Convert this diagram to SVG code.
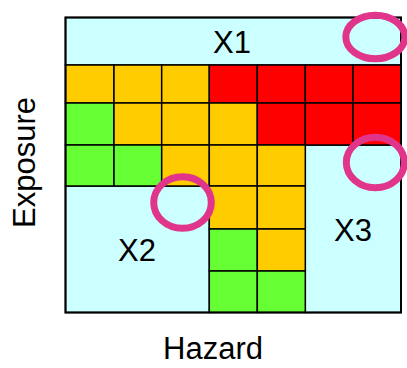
<svg xmlns="http://www.w3.org/2000/svg" width="407" height="368" viewBox="0 0 407 368">
<style>
.zone{fill:#CCFFFF;stroke:#000;stroke-width:1.5}
.c{stroke:#000;stroke-width:1.5}
.o{fill:#FFCC00}.r{fill:#FF0000}.g{fill:#66FF33}
.t{font-family:"Liberation Sans",Arial,sans-serif;font-size:31px;fill:#000;text-anchor:middle}
.ring{fill:none;stroke:#E0358A;stroke-width:7}
</style>
<rect width="407" height="368" fill="#fff"/>
<g id="X1"><rect class="zone" x="65.5" y="17.5" width="335.5" height="47.5"/><text class="t" x="232" y="53.3">X1</text></g>
<g id="X2"><rect class="zone" x="65.5" y="186" width="143.8" height="126.5"/><text class="t" x="137" y="260.7">X2</text></g>
<g id="X3"><rect class="zone" x="305.3" y="145" width="95.7" height="167.5"/><text class="t" x="353" y="240.7">X3</text></g>
<g id="grid">
<rect class="c o" x="65.5" y="65" width="48.5" height="38"/>
<rect class="c o" x="114" y="65" width="47.7" height="38"/>
<rect class="c o" x="161.7" y="65" width="47.6" height="38"/>
<rect class="c r" x="209.3" y="65" width="48" height="38"/>
<rect class="c r" x="257.3" y="65" width="48" height="38"/>
<rect class="c r" x="305.3" y="65" width="47.7" height="38"/>
<rect class="c r" x="353" y="65" width="48" height="38"/>
<rect class="c g" x="65.5" y="103" width="48.5" height="42"/>
<rect class="c o" x="114" y="103" width="47.7" height="42"/>
<rect class="c o" x="161.7" y="103" width="47.6" height="42"/>
<rect class="c o" x="209.3" y="103" width="48" height="42"/>
<rect class="c r" x="257.3" y="103" width="48" height="42"/>
<rect class="c r" x="305.3" y="103" width="47.7" height="42"/>
<rect class="c r" x="353" y="103" width="48" height="42"/>
<rect class="c g" x="65.5" y="145" width="48.5" height="41"/>
<rect class="c g" x="114" y="145" width="47.7" height="41"/>
<rect class="c o" x="161.7" y="145" width="47.6" height="41"/>
<rect class="c o" x="209.3" y="145" width="48" height="41"/>
<rect class="c o" x="257.3" y="145" width="48" height="41"/>
<rect class="c o" x="209.3" y="186" width="48" height="43"/>
<rect class="c o" x="257.3" y="186" width="48" height="43"/>
<rect class="c g" x="209.3" y="229" width="48" height="42"/>
<rect class="c o" x="257.3" y="229" width="48" height="42"/>
<rect class="c g" x="209.3" y="271" width="48" height="41.5"/>
<rect class="c g" x="257.3" y="271" width="48" height="41.5"/>
</g>
<rect x="65.5" y="17.5" width="335.5" height="295" fill="none" stroke="#000" stroke-width="2"/>
<g id="connectors"></g>
<g id="axes">
<text class="t" x="213" y="359.3">Hazard</text>
<text class="t" transform="translate(34.5,162.5) rotate(-90)">Exposure</text>
</g>
<g id="highlights">
<ellipse class="ring" cx="375.3" cy="37" rx="29.5" ry="21.8"/>
<ellipse class="ring" cx="182.5" cy="202.5" rx="28.8" ry="25.8"/>
<ellipse class="ring" cx="375.3" cy="162.5" rx="29" ry="25.2"/>
</g>
</svg>
